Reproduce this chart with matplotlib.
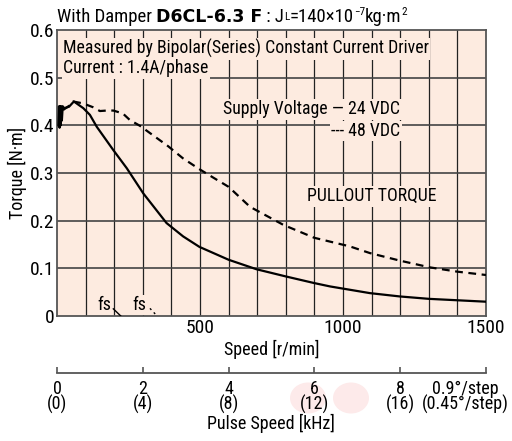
import numpy as np
import matplotlib
matplotlib.use("Agg")
import matplotlib.pyplot as plt
from matplotlib.patches import Circle
from matplotlib import font_manager

names = {f.name for f in font_manager.fontManager.ttflist}
base = [n for n in ['Liberation Sans Narrow', 'Roboto Condensed', 'Liberation Sans']
        if n in names][:1] or ['DejaVu Sans']
plt.rcParams['font.family'] = base + ['DejaVu Sans']

# pullout torque, 24 VDC supply (solid)
speed_24 = [5, 7, 9, 11, 13, 15, 17, 20, 25, 42, 59, 92, 115, 139, 197, 244, 302,
            383, 441, 498, 600, 698, 800, 900, 955, 1094, 1199, 1300, 1400, 1500]
torque_24 = [0.40, 0.44, 0.395, 0.44, 0.40, 0.44, 0.41, 0.44, 0.436, 0.439, 0.45,
             0.436, 0.422, 0.397, 0.348, 0.31, 0.257, 0.195, 0.167, 0.145, 0.118,
             0.098, 0.083, 0.069, 0.062, 0.048, 0.041, 0.036, 0.033, 0.030]

# pullout torque, 48 VDC supply (dashed)
speed_48 = [21, 40, 57, 91, 126, 150, 174, 197, 230, 255, 290, 389, 440, 498, 550,
            600, 675, 792, 900, 1024, 1094, 1200, 1304, 1400, 1500]
torque_48 = [0.432, 0.44, 0.45, 0.446, 0.438, 0.43, 0.431, 0.431, 0.425, 0.411,
             0.399, 0.356, 0.331, 0.308, 0.289, 0.271, 0.229, 0.191, 0.164, 0.146,
             0.132, 0.116, 0.102, 0.093, 0.086]

# starting frequency markers
fs_24 = ([197, 223], [0.015, 0.0])
fs_48 = ([325, 350], [0.016, 0.0])

speed_ticks = [500, 1000, 1500]
torque_ticks = [0, 0.1, 0.2, 0.3, 0.4, 0.5, 0.6]
torque_labels = ['0', '0.1', '0.2', '0.3', '0.4', '0.5', '0.6']
pulse_ticks = [0, 2, 4, 6, 8, 10]
pulse_labels = ['0\n(0)', '2\n(4)', '4\n(8)', '6\n(12)', '8\n(16)',
                '0.9°/step\n(0.45°/step)']

bg = '#fdebe0'
W, H = 512, 441
fig = plt.figure(figsize=(W / 100, H / 100), dpi=100, facecolor='white')

# faint watermark dots behind the pulse-speed labels
for cx in (308, 351):
    fig.patches.append(Circle((cx / W, 1 - 398 / H), 18 / W, transform=fig.transFigure,
                              fc='#fdeaea', ec='none', zorder=-5))

ax = fig.add_axes([57 / W, 1 - 316 / H, 429 / W, 286 / H], facecolor=bg)
ax.set_xlim(0, 1500)
ax.set_ylim(0, 0.6)

# grid
for x in range(100, 1500, 100):
    ax.axvline(x, color='#222222', lw=0.9, zorder=1)
for y in torque_ticks[1:-1]:
    ax.axhline(y, color='#444444', lw=1.2, zorder=1)

ax.plot(speed_24, torque_24, color='black', lw=1.6, zorder=4)
ax.plot(speed_48, torque_48, color='black', lw=1.6, ls=(0, (3.5, 2.5)), zorder=4)
ax.plot(*fs_24, color='black', lw=1.0, zorder=4)
ax.plot(*fs_48, color='black', lw=1.0, ls=(0, (1.5, 2.5)), zorder=4)
for xs in (164, 287):
    ax.text(xs, 0.004, 'fs', fontsize=13, ha='center', va='bottom', zorder=3,
            bbox=dict(fc=bg, ec='none', pad=0.5))

ax.set_xticks(speed_ticks)
ax.set_yticks(torque_ticks)
ax.set_yticklabels(torque_labels)
ax.tick_params(length=0, labelsize=14, pad=2)
for s in ax.spines.values():
    s.set_color('#555555')
    s.set_linewidth(1.3)
ax.set_xlabel('Speed [r/min]', fontsize=13, labelpad=2)
ax.set_ylabel('Torque [N·m]', fontsize=13, labelpad=2)

box = dict(fc=bg, ec='none', pad=1.0)
ax.text(21, 0.561, 'Measured by Bipolar(Series) Constant Current Driver',
        fontsize=12.8, va='center', zorder=3, bbox=box)
ax.text(21, 0.520, 'Current : 1.4A/phase', fontsize=12.8, va='center', zorder=3, bbox=box)
ax.text(1200, 0.434, 'Supply Voltage — 24 VDC', fontsize=12.8, ha='right',
        va='center', zorder=3, bbox=box)
ax.text(1200, 0.388, '--- 48 VDC', fontsize=12.8, ha='right', va='center',
        zorder=3, bbox=box)
ax.text(1100, 0.251, 'PULLOUT TORQUE', fontsize=12.8, ha='center', va='center',
        zorder=3, bbox=box)

# pulse speed axis
ax2 = fig.add_axes([57 / W, 1 - 373 / H, 429 / W, 0.001], facecolor='none')
ax2.set_xlim(0, 10)
ax2.set_yticks([])
for k in ['top', 'left', 'right']:
    ax2.spines[k].set_visible(False)
ax2.spines['bottom'].set_color('#555555')
ax2.spines['bottom'].set_linewidth(1.3)
ax2.set_xticks(pulse_ticks)
ax2.set_xticklabels([])
ax2.tick_params(direction='in', length=4, width=1.2, color='#555555')

for p, lab in zip(pulse_ticks[:-1], pulse_labels[:-1]):
    fig.text((57 + p * 42.9) / W, 1 - 380 / H, lab, ha='center', va='top',
             fontsize=13, linespacing=0.82)
fig.text(509 / W, 1 - 380 / H, pulse_labels[-1], ha='right', va='top',
         multialignment='center', fontsize=13, linespacing=0.82)
fig.text(271 / W, 1 - 423 / H, 'Pulse Speed [kHz]', ha='center', va='center',
         fontsize=13)

# title built from pieces
fig.canvas.draw()
r = fig.canvas.get_renderer()
x0 = 57 / W
yt = 1 - 17 / H
parts = [('With Damper ', dict(fontsize=13.5)),
         ('D6CL-6.3 F', dict(fontsize=12.5, fontweight='bold', family=['DejaVu Sans'])),
         (' : J', dict(fontsize=13.5)),
         ('L', dict(fontsize=8)),
         ('=140×10', dict(fontsize=13.5)),
         ('−7', dict(fontsize=8, dy=5)),
         ('kg·m', dict(fontsize=13.5)),
         ('2', dict(fontsize=8, dy=5))]
for txt, kw in parts:
    dy = kw.pop('dy', 0)
    t = fig.text(x0, yt + dy / H, txt, va='center', **kw)
    bb = t.get_window_extent(r)
    x0 += bb.width / W

fig.savefig('out.png', dpi=100, facecolor='white')
